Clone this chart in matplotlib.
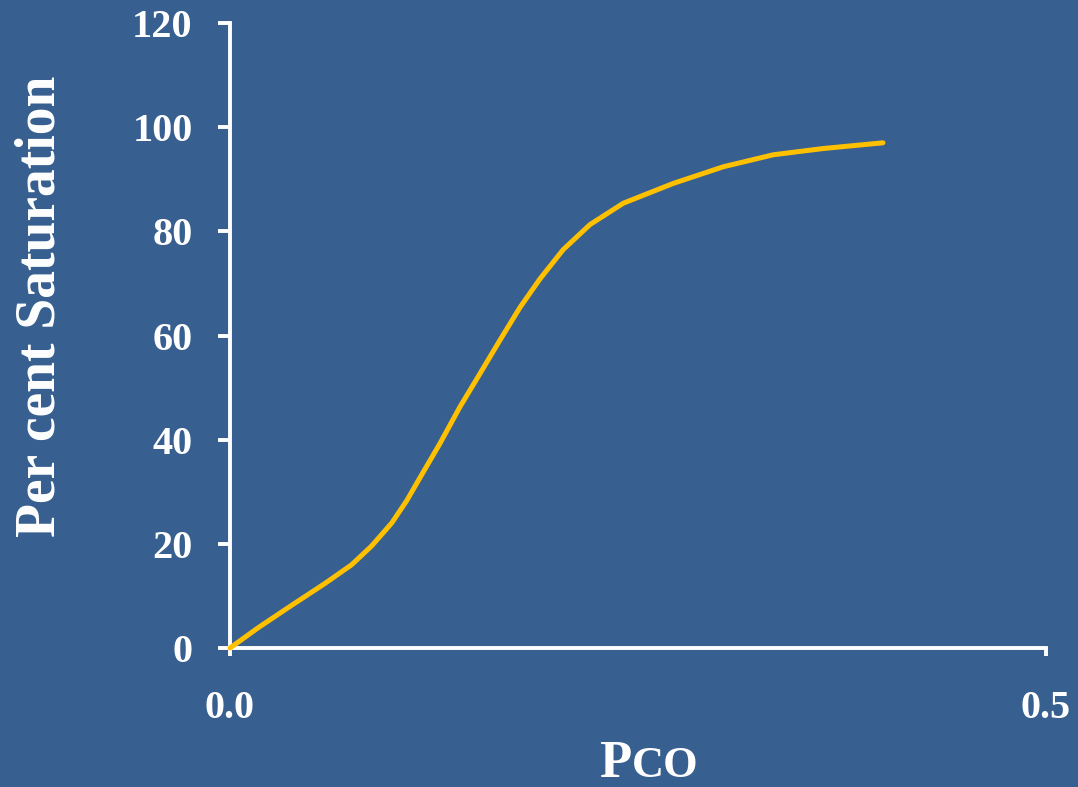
import matplotlib
matplotlib.use("Agg")
import matplotlib.pyplot as plt

# CO partial pressure vs. per cent saturation of haemoglobin
pco = [0.0, 0.0173, 0.0378, 0.0582, 0.0746, 0.0868, 0.0991, 0.1083,
       0.1164, 0.1287, 0.1409, 0.1532, 0.1654, 0.1777, 0.1900, 0.2042,
       0.2206, 0.2410, 0.2716, 0.3023, 0.3329, 0.3635, 0.4001]
saturation = [0.0, 3.9, 8.2, 12.4, 16.0, 19.6, 24.0, 28.3,
              32.7, 39.3, 46.3, 52.7, 59.1, 65.4, 70.9, 76.5,
              81.3, 85.4, 89.2, 92.4, 94.7, 95.9, 97.0]

x_ticks = [0.0, 0.5]
x_tick_labels = ["0.0", "0.5"]
y_ticks = [0, 20, 40, 60, 80, 100, 120]

BG = "#375F8F"
FG = "white"
CURVE = "#FFC000"
FONT = "Liberation Serif"

W, H = 1078, 787
fig = plt.figure(figsize=(W / 100, H / 100), dpi=100, facecolor=BG)
ax = fig.add_axes([230 / W, 1 - 648 / H, (1046 - 230) / W, (648 - 23) / H])
ax.set_facecolor(BG)

ax.plot(pco, saturation, color=CURVE, lw=3.6, solid_capstyle="round",
        solid_joinstyle="round", clip_on=False, zorder=3)

ax.set_xlim(0, 0.5)
ax.set_ylim(0, 120)
ax.set_xticks(x_ticks)
ax.set_xticklabels(x_tick_labels)
ax.set_yticks(y_ticks)

for side in ("top", "right"):
    ax.spines[side].set_visible(False)
for side in ("left", "bottom"):
    ax.spines[side].set_color(FG)
    ax.spines[side].set_linewidth(2.8)
    ax.spines[side].set_capstyle("projecting")

ax.tick_params(axis="y", direction="out", length=9, width=2.8, color=FG,
               pad=18, labelcolor=FG)
ax.tick_params(axis="x", direction="out", length=6, width=2.8, color=FG,
               pad=24, labelcolor=FG)
for lbl in ax.get_xticklabels() + ax.get_yticklabels():
    lbl.set_fontfamily(FONT)
    lbl.set_fontweight("bold")
    lbl.set_fontsize(29)

fig.text(41 / W, 1 - 306 / H, "Per cent Saturation", rotation=90,
         ha="center", va="center", color=FG, family=FONT,
         weight="bold", fontsize=40)

# x-axis title: "P" followed by small-capital "CO"
fig.text(631 / W, 10 / H, "P", ha="right", va="baseline", color=FG,
         family=FONT, weight="bold", fontsize=38)
fig.text(632 / W, 10 / H, "CO", ha="left", va="baseline", color=FG,
         family=FONT, weight="bold", fontsize=32)

fig.savefig("out.png", dpi=100, facecolor=BG)
